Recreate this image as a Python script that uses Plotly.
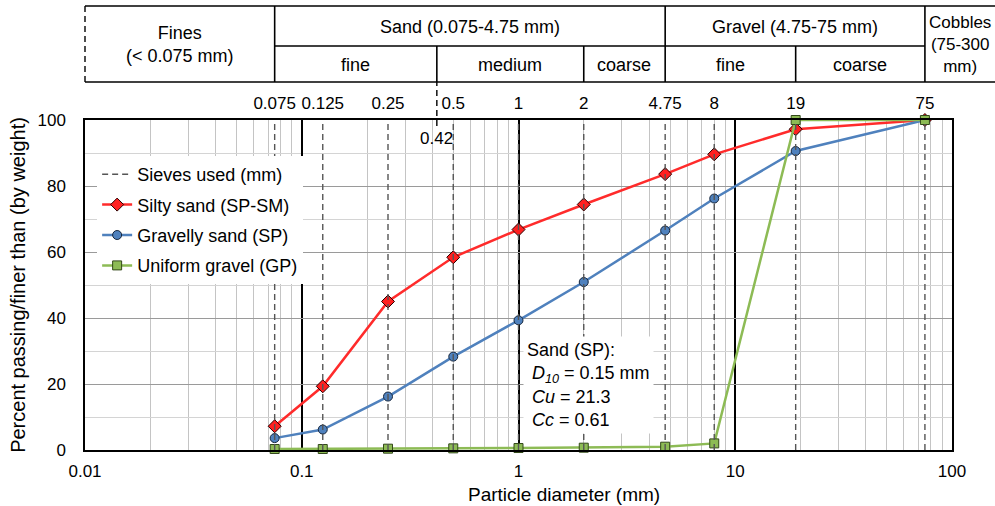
import numpy as np
import plotly.graph_objects as go

# ---------------- data ----------------
sieves = [0.075, 0.125, 0.25, 0.5, 1, 2, 4.75, 8, 19, 75]
sieve_labels = ["0.075", "0.125", "0.25", "0.5", "1", "2", "4.75", "8", "19", "75"]
silty_sand = [7.2, 19.3, 45.0, 58.4, 66.8, 74.4, 83.6, 89.6, 97.2, 100]
gravelly_sand = [3.6, 6.2, 16.2, 28.3, 39.3, 50.9, 66.5, 76.2, 90.6, 100]
uniform_gravel = [0.3, 0.3, 0.4, 0.5, 0.6, 0.7, 1.0, 2.0, 100, 100]

x_ticks = [0.01, 0.1, 1, 10, 100]
x_tick_labels = ["0.01", "0.1", "1", "10", "100"]
y_ticks = [0, 20, 40, 60, 80, 100]

# soil classification boundaries (mm)
fines_limit = 0.075
sand_limit = 4.75
gravel_limit = 75
sand_fine_med = 0.42
sand_med_coarse = 2
gravel_fine_coarse = 19

FONT = "Liberation Sans, Arial, sans-serif"

# plot geometry helpers (pixel -> paper)
PT, PB = 120, 450
PL, PR = 85, 952
def py(pix):
    return (PB - pix) / (PB - PT)
def px(pix):
    return (pix - PL) / (PR - PL)

fig = go.Figure()

# sieve lines
sx, sy = [], []
for s in sieves:
    sx += [s, s, None]
    sy += [0, 100, None]
fig.add_trace(go.Scatter(
    x=sx, y=sy, mode="lines", name="Sieves used (mm)", xaxis="x2",
    line=dict(color="#555555", width=1.4, dash="6px,4px"),
    legendgroup="a", hoverinfo="skip"))

fig.add_trace(go.Scatter(
    x=sieves, y=silty_sand, mode="lines+markers", name="Silty sand (SP-SM)",
    line=dict(color="#FF2B2B", width=2.5),
    marker=dict(symbol="diamond", size=10, color="#FF2020", line=dict(color="#2a0000", width=1)),
    cliponaxis=False, legendgroup="b"))
fig.add_trace(go.Scatter(
    x=sieves, y=gravelly_sand, mode="lines+markers", name="Gravelly sand (SP)",
    line=dict(color="#4F81BD", width=2.5),
    marker=dict(symbol="circle", size=9, color="#4F81BD", line=dict(color="#16263c", width=1)),
    cliponaxis=False, legendgroup="c"))
fig.add_trace(go.Scatter(
    x=sieves, y=uniform_gravel, mode="lines+markers", name="Uniform gravel (GP)",
    line=dict(color="#8DBB55", width=2.5),
    marker=dict(symbol="square", size=9, color="#8DBB55", line=dict(color="#33491a", width=1)),
    cliponaxis=False, legendgroup="d"))

minor_vals = [m * 10.0 ** e for e in range(-2, 2) for m in range(2, 10)]

fig.update_layout(
    width=995, height=506,
    margin=dict(l=PL, r=995 - PR, t=PT, b=506 - PB),
    paper_bgcolor="white", plot_bgcolor="white",
    font=dict(family=FONT, size=17, color="black"),
    showlegend=True,
    legend=dict(x=0.014, y=py(156), xanchor="left", yanchor="top",
                bgcolor="white", font=dict(size=18), tracegroupgap=4,
                itemwidth=30),
    xaxis=dict(type="log", range=[-2, 2], tickvals=x_ticks, ticktext=x_tick_labels,
               showgrid=True, gridcolor="black", gridwidth=1.5,
               minor=dict(tickvals=minor_vals, showgrid=True, gridcolor="#c4c4c4", gridwidth=1),
               showline=True, linecolor="black", linewidth=1.5, mirror=True,
               ticks="", ticklabelstandoff=5, tickfont=dict(size=17), automargin=False,
               zeroline=False),
    xaxis2=dict(type="log", range=[-2, 2], overlaying="x", side="top",
                tickvals=sieves, ticktext=sieve_labels, tickangle=0, automargin=False,
                showgrid=False, showline=False, ticks="", ticklabelstandoff=7,
                tickfont=dict(size=17)),
    yaxis=dict(range=[0, 100], tickvals=y_ticks, showgrid=True, gridcolor="#9a9a9a", gridwidth=1,
               minor=dict(dtick=10, showgrid=True, gridcolor="#d4d4d4", gridwidth=1),
               showline=True, linecolor="black", linewidth=1.5, mirror=True, automargin=False,
               ticks="", ticklabelstandoff=14, tickfont=dict(size=17),
               title=dict(text="Percent passing/finer than (by weight)", font=dict(size=20), standoff=6),
               zeroline=False),
)

# ---------------- classification table ----------------
LW = 1.6
shapes = []
xr = 1.06
shapes.append(dict(type="line", xref="paper", yref="paper", x0=0, x1=xr, y0=py(6), y1=py(6),
                   line=dict(color="black", width=LW)))
shapes.append(dict(type="line", xref="paper", yref="paper", x0=0, x1=xr, y0=py(82), y1=py(82),
                   line=dict(color="black", width=LW)))
shapes.append(dict(type="line", xref="x", yref="paper", x0=fines_limit, x1=gravel_limit,
                   y0=py(46), y1=py(46), line=dict(color="black", width=LW)))
for b in [fines_limit, sand_limit, gravel_limit]:
    shapes.append(dict(type="line", xref="x", yref="paper", x0=b, x1=b, y0=py(82), y1=py(6),
                       line=dict(color="black", width=LW)))
for b in [sand_fine_med, sand_med_coarse, gravel_fine_coarse]:
    shapes.append(dict(type="line", xref="x", yref="paper", x0=b, x1=b, y0=py(82), y1=py(46),
                       line=dict(color="black", width=LW)))
shapes.append(dict(type="line", xref="paper", yref="paper", x0=0, x1=0, y0=py(82), y1=py(6),
                   line=dict(color="black", width=1.4, dash="6px,4px")))
shapes.append(dict(type="line", xref="x", yref="paper", x0=sand_fine_med, x1=sand_fine_med,
                   y0=py(126), y1=py(82), line=dict(color="black", width=1.4, dash="6px,4px")))
fig.update_layout(shapes=shapes)

L = np.log10
def mid(a, b):
    return (L(a) + L(b)) / 2

ann = []
def add_text(text, x, ypix, xref="x", size=18, **kw):
    ann.append(dict(text=text, x=x, y=py(ypix), xref=xref, yref="paper", showarrow=False,
                    xanchor="center", yanchor="middle",
                    font=dict(size=size, family=FONT, color="black"), **kw))

add_text("Fines<br>(< 0.075 mm)", mid(0.01, fines_limit), 44)
add_text("Sand (0.075-4.75 mm)", mid(fines_limit, sand_limit), 27)
add_text("Gravel (4.75-75 mm)", mid(sand_limit, gravel_limit), 27)
add_text("Cobbles<br>(75-300<br>mm)", px(960), 44, xref="paper", size=17)
add_text("fine", mid(fines_limit, sand_fine_med), 65)
add_text("medium", mid(sand_fine_med, sand_med_coarse), 65)
add_text("coarse", mid(sand_med_coarse, sand_limit), 65)
add_text("fine", mid(sand_limit, gravel_fine_coarse), 65)
add_text("coarse", mid(gravel_fine_coarse, gravel_limit), 65)
add_text("0.42", L(sand_fine_med), 138, size=17)
# x-axis title (offset to the right as in the original)
add_text("Particle diameter (mm)", px(564), 495, xref="paper", size=19)

ann.append(dict(
    text="Sand (SP):<br>&nbsp;<i>D</i><sub><i>10</i></sub> = 0.15 mm<br>&nbsp;<i>Cu</i> = 21.3<br>&nbsp;<i>Cc</i> = 0.61",
    x=L(1.05), y=py(336), xref="x", yref="paper", xanchor="left", yanchor="top", align="left",
    showarrow=False, bgcolor="white", borderpad=3,
    font=dict(size=18, family=FONT, color="black")))
fig.update_layout(annotations=ann)

fig.write_html("out.html")
